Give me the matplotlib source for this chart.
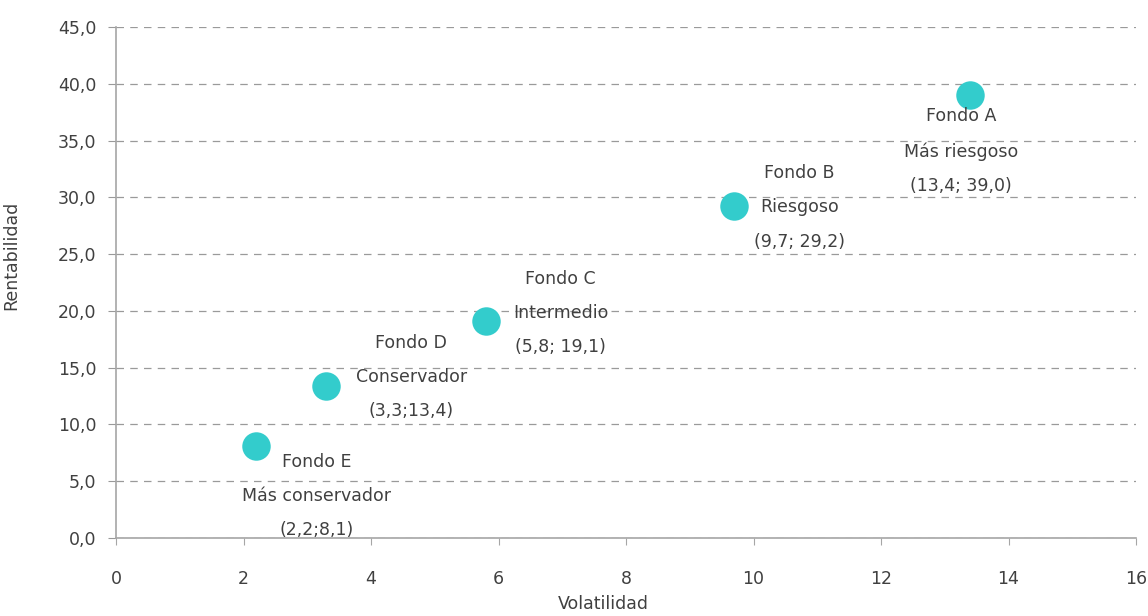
import matplotlib.pyplot as plt
from matplotlib.ticker import FuncFormatter

# datos de los fondos
fondos = ['A', 'B', 'C', 'D', 'E']
volatilidad = [13.4, 9.7, 5.8, 3.3, 2.2]
rentabilidad = [39.0, 29.2, 19.1, 13.4, 8.1]
perfiles = ['Más riesgoso', 'Riesgoso', 'Intermedio', 'Conservador', 'Más conservador']
coords = ['(13,4; 39,0)', '(9,7; 29,2)', '(5,8; 19,1)', '(3,3;13,4)', '(2,2;8,1)']

# desplazamiento de las etiquetas (pixeles)
offsets = [(-9, -56), (65, -1), (75, 8), (85, 9), (60, -50)]

text_color = '#404040'
axis_color = '#a6a6a6'

plt.rcParams['font.family'] = ['DejaVu Sans']
fig = plt.figure(figsize=(11.48, 6.16), dpi=100)
ax = fig.add_axes([116 / 1148, 1 - 538 / 616, 1020 / 1148, 511 / 616])

ax.scatter(volatilidad, rentabilidad, s=420, color='#33cccc', zorder=3, linewidths=0)

for i in range(len(fondos)):
    label = 'Fondo %s\n%s\n%s' % (fondos[i], perfiles[i], coords[i])
    dx, dy = offsets[i]
    ax.annotate(label, (volatilidad[i], rentabilidad[i]),
                xytext=(dx * 0.72, dy * 0.72), textcoords='offset points',
                ha='center', va='center', multialignment='center',
                fontsize=12.5, color=text_color, linespacing=2.15, zorder=4)

ax.set_xlim(0, 16)
ax.set_ylim(0, 45)
ax.set_xticks(range(0, 17, 2))
ax.set_yticks(range(0, 46, 5))
ax.yaxis.set_major_formatter(FuncFormatter(lambda v, p: ('%.1f' % v).replace('.', ',')))

ax.yaxis.grid(True, linestyle=(0, (6, 5)), color='#9a9a9a', linewidth=0.9)
ax.set_axisbelow(True)

for side in ['top', 'right']:
    ax.spines[side].set_visible(False)
for side in ['left', 'bottom']:
    ax.spines[side].set_color(axis_color)
    ax.spines[side].set_linewidth(1.2)

ax.tick_params(axis='y', length=6, color='#999999', pad=8, labelsize=12.5, labelcolor=text_color)
ax.tick_params(axis='x', length=5, color=axis_color, pad=18, labelsize=12.5, labelcolor=text_color)

ax.set_xlabel('Volatilidad', fontsize=12.5, color=text_color)
ax.set_ylabel('Rentabilidad', fontsize=12.5, color=text_color)
ax.xaxis.set_label_coords(0.478, -0.112)
ax.yaxis.set_label_coords(-0.094, 0.554)

fig.savefig('out.png', dpi=100)
